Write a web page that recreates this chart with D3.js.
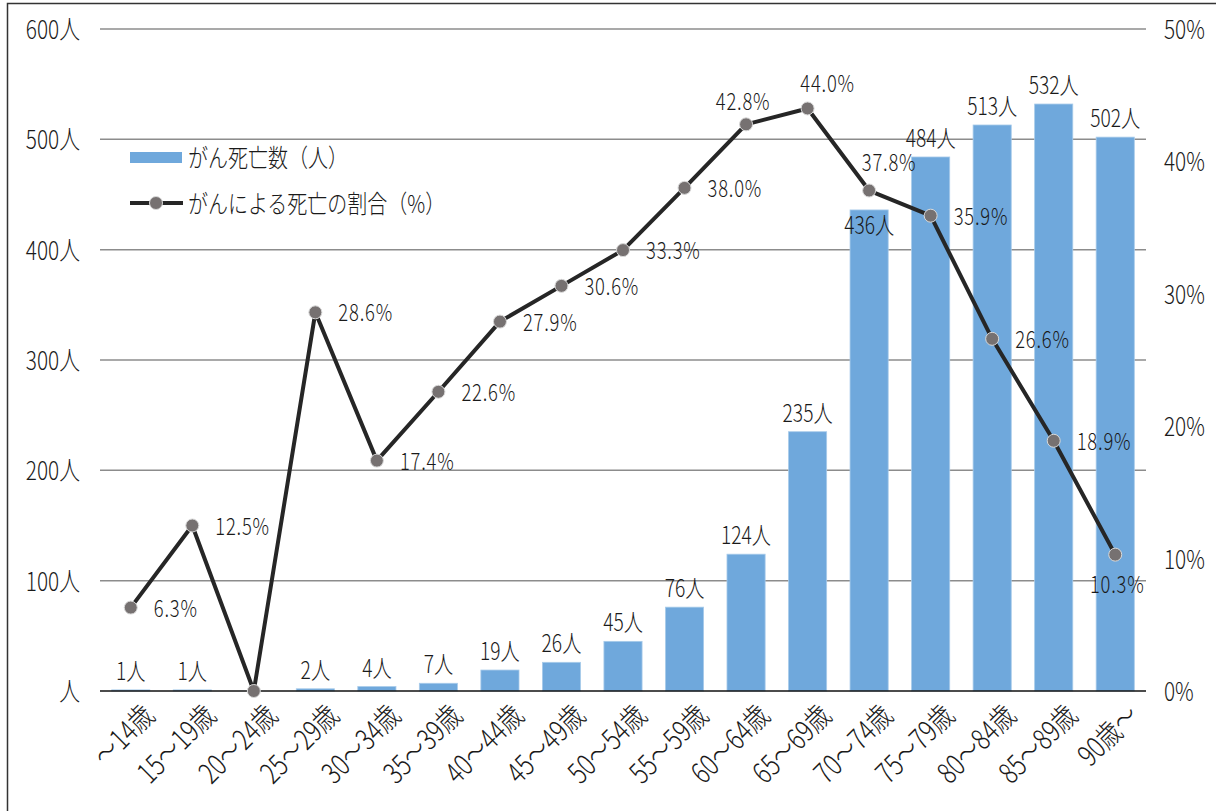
<!DOCTYPE html>
<html>
<head>
<meta charset="utf-8">
<script src="https://cdn.jsdelivr.net/npm/d3@7"></script>
<style>
  body { margin: 0; background: #fff; }
  svg text { font-family: "Noto Sans CJK JP", "Noto Sans", sans-serif; font-weight: 300; fill: #1a1a1a; }
</style>
</head>
<body>
<svg id="chart" width="1216" height="811"></svg>
<script>
//chart data
const ageGroups = ["～14歳", "15～19歳", "20～24歳", "25～29歳", "30～34歳", "35～39歳", "40～44歳", "45～49歳",
  "50～54歳", "55～59歳", "60～64歳", "65～69歳", "70～74歳", "75～79歳", "80～84歳", "85～89歳", "90歳～"]
const cancerDeaths = [1, 1, 0, 2, 4, 7, 19, 26, 45, 76, 124, 235, 436, 484, 513, 532, 502]
const cancerShare = [6.3, 12.5, 0, 28.6, 17.4, 22.6, 27.9, 30.6, 33.3, 38.0, 42.8, 44.0, 37.8, 35.9, 26.6, 18.9, 10.3]
const countTicks = [0, 100, 200, 300, 400, 500, 600]
const shareTicks = [0, 10, 20, 30, 40, 50]
const legendLabels = ["がん死亡数（人）", "がんによる死亡の割合（%）"]

const svg = d3.select("#chart")
  , margin = {left: 100, right: 70, top: 29, bottom: 120}
  , width = 1216, height = 811
  , squeeze = 0.8

//narrow text helper - the original uses a condensed face
const label = (g, x, y, txt, size, anchor) => g.append("text")
  .attr("transform", `translate(${x},${y}) scale(${squeeze},1)`)
  .attr("text-anchor", anchor || "start")
  .attr("font-size", size)
  .text(txt)

const x = d3.scaleBand().domain(ageGroups).range([margin.left, 1146]).paddingInner(0.38).paddingOuter(0.19)
const y = d3.scaleLinear().domain([0, 600]).range([691, margin.top])
const y2 = d3.scaleLinear().domain([0, 50]).range([691, margin.top])

//frame
svg.append("path").attr("d", `M7.5,${height + 5}V3.5H${width + 5}`)
  .attr("fill", "none").attr("stroke", "#333").attr("stroke-width", 1.5)

//grid + left axis
svg.append("g").selectAll("line").data(countTicks.slice(1)).join("line")
  .attr("x1", margin.left).attr("x2", 1146)
  .attr("y1", d => y(d)).attr("y2", d => y(d))
  .attr("stroke", "#8c8c8c").attr("stroke-width", 1.5)

const leftAxis = svg.append("g")
countTicks.forEach(t => label(leftAxis, 80, y(t) + 10, t === 0 ? "人" : t + "人", 26, "end"))

const rightAxis = svg.append("g")
shareTicks.forEach(t => label(rightAxis, 1164, y2(t) + 10, t + "%", 26, "start"))

//bars
svg.append("g").selectAll("rect").data(cancerDeaths).join("rect")
  .attr("x", (d, i) => x(ageGroups[i]))
  .attr("y", d => y(d))
  .attr("width", x.bandwidth())
  .attr("height", d => y(0) - y(d))
  .attr("fill", "#6fa8dc")
  .attr("stroke", "#a8cbea").attr("stroke-width", 0.8)

//baseline
svg.append("line").attr("x1", margin.left).attr("x2", 1146).attr("y1", y(0)).attr("y2", y(0))
  .attr("stroke", "#111").attr("stroke-width", 1.5)

//bar labels (zero bar has none, 70-74 sits inside the bar under the line)
const barLabels = svg.append("g")
cancerDeaths.forEach((d, i) => {
  if (d === 0) return
  const cx = x(ageGroups[i]) + x.bandwidth() / 2
  const inside = ageGroups[i] === "70～74歳"
  label(barLabels, cx, inside ? y(d) + 24 : y(d) - 10, d + "人", 24, "middle")
})

//line
const cx = i => x(ageGroups[i]) + x.bandwidth() / 2
const line = d3.line().x((d, i) => cx(i)).y(d => y2(d))
svg.append("path").datum(cancerShare).attr("d", line)
  .attr("fill", "none").attr("stroke", "#262626").attr("stroke-width", 4).attr("stroke-linejoin", "round")

svg.append("g").selectAll("circle").data(cancerShare).join("circle")
  .attr("cx", (d, i) => cx(i)).attr("cy", d => y2(d)).attr("r", 6.5)
  .attr("fill", "#767171").attr("stroke", "#d9d9d9").attr("stroke-width", 1)

//percent labels, mostly to the right of the point
const placeShare = i => {
  const g = ageGroups[i]
  if (g === "60～64歳") return [-3, -14, "middle"]
  if (g === "65～69歳") return [20, -16, "middle"]
  if (g === "70～74歳") return [20, -20, "middle"]
  if (g === "90歳～") return [2, 38, "middle"]
  return [23, 9, "start"]
}
const shareLabels = svg.append("g")
cancerShare.forEach((d, i) => {
  if (d === 0) return
  const [dx, dy, anchor] = placeShare(i)
  label(shareLabels, cx(i) + dx, y2(d) + dy, d.toFixed(1) + "%", 23, anchor)
    .attr("letter-spacing", 1)
})

//x labels
const xLabels = svg.append("g")
ageGroups.forEach((g, i) => {
  xLabels.append("text")
    .attr("transform", `translate(${cx(i) + 10},${702}) rotate(-45) scale(${squeeze},1)`)
    .attr("text-anchor", "end").attr("dy", "0.75em")
    .attr("font-size", 29)
    .text(g)
})

//legend
const legend = svg.append("g")
legend.append("rect").attr("x", 130).attr("y", 152).attr("width", 52).attr("height", 11).attr("fill", "#6fa8dc")
legend.append("line").attr("x1", 130).attr("x2", 183).attr("y1", 203).attr("y2", 203)
  .attr("stroke", "#262626").attr("stroke-width", 4)
legend.append("circle").attr("cx", 156).attr("cy", 203).attr("r", 6.5)
  .attr("fill", "#767171").attr("stroke", "#d9d9d9")
legendLabels.forEach((t, i) => label(legend, 188, 167 + i * 46, t, 25, "start"))
</script>
</body>
</html>
